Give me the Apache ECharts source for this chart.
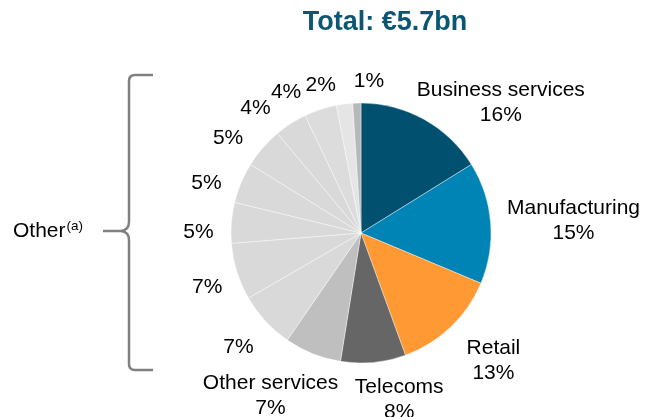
<!DOCTYPE html>
<html>
<head>
<meta charset="utf-8">
<script src="https://cdn.jsdelivr.net/npm/echarts@6/dist/echarts.min.js"></script>
<style>
  html, body { margin: 0; padding: 0; background: #fff; }
  #chart { width: 646px; height: 417px; }
</style>
</head>
<body>
<div id="chart"></div>
<script>
// Sector split of the total, clockwise from 12 o'clock
const sectors = ['Business services', 'Manufacturing', 'Retail', 'Telecoms', 'Other services',
  'Other 1', 'Other 2', 'Other 3', 'Other 4', 'Other 5', 'Other 6', 'Other 7', 'Other 8', 'Other 9'];
const shares = [16, 15, 13, 8, 7, 7, 7, 5, 5, 5, 4, 4, 2, 1];
const namedSectors = ['Business services', 'Manufacturing', 'Retail', 'Telecoms', 'Other services'];
const titleText = 'Total: \u20ac5.7bn';

// Slice colours
const sliceColors = ['#02506F', '#0083B5', '#FF9933', '#666666', '#BFBFBF',
  '#D9D9D9', '#D9D9D9', '#D9D9D9', '#D9D9D9', '#D9D9D9', '#D9D9D9', '#DCDCDC', '#E5E5E5', '#B8B8B8'];

// Label placement: a radial anchor beyond the rim, then a small shift per label
const labelGap = 30;
const labelShift = [[62, 10], [53, 0], [22, 12], [23, 7], [-31, 14], [-5, 6], [-1, 7],
  [-3, 12], [-7, 12], [-12, 10], [-19, 10], [-25, 11], [-20, 11], [13, 8]];

const pieCenter = [361, 233];
const pieRadius = 130;

const chart = echarts.init(document.getElementById('chart'), null, { renderer: 'canvas' });

const seriesData = sectors.map((name, i) => ({
  name: name,
  value: shares[i],
  itemStyle: { color: sliceColors[i] }
}));

// Curly bracket grouping the unnamed slices
const bracketStyle = { fill: 'none', stroke: '#808080', lineWidth: 2.5 };
const seg = (pts) => ({ type: 'polyline', shape: { points: pts }, style: bracketStyle, silent: true });
const curve = (x1, y1, cx, cy, x2, y2) => ({
  type: 'bezierCurve',
  shape: { x1: x1, y1: y1, cpx1: cx, cpy1: cy, x2: x2, y2: y2 },
  style: bracketStyle,
  silent: true
});
const bracket = [
  seg([[153, 75], [135, 75]]),
  curve(135, 75, 129, 75, 129, 81),
  seg([[129, 81], [129, 222]]),
  curve(129, 222, 129, 230, 121, 231),
  seg([[121, 231], [103, 231]]),
  curve(121, 231, 129, 232, 129, 240),
  seg([[129, 240], [129, 364]]),
  curve(129, 364, 129, 370, 135, 370),
  seg([[135, 370], [153, 370]])
];

chart.setOption({
  animation: false,
  backgroundColor: '#ffffff',
  title: {
    text: titleText,
    left: 385,
    top: 9,
    padding: 0,
    textAlign: 'center',
    textStyle: {
      fontFamily: 'Liberation Sans, Arial, sans-serif',
      fontSize: 27,
      fontWeight: 'bold',
      color: '#0B5675'
    }
  },
  series: [{
    type: 'pie',
    center: pieCenter,
    radius: pieRadius,
    startAngle: 90,
    clockwise: true,
    avoidLabelOverlap: false,
    itemStyle: { borderColor: '#ffffff', borderWidth: 0.4 },
    emphasis: { disabled: true },
    label: {
      show: true,
      position: 'outside',
      fontFamily: 'Liberation Sans, Arial, sans-serif',
      fontSize: 21,
      lineHeight: 25,
      color: '#000000',
      formatter: p => namedSectors.includes(p.name) ? p.name + '\n' + p.value + '%' : p.value + '%'
    },
    labelLine: {
      show: true,
      length: labelGap,
      length2: 0,
      lineStyle: { opacity: 0 }
    },
    labelLayout: function (params) {
      const pts = params.labelLinePoints;
      const i = params.dataIndex;
      let ax, ay;
      if (pts && pts.length >= 2) {
        const dx = pts[1][0] - pts[0][0];
        const dy = pts[1][1] - pts[0][1];
        const len = Math.sqrt(dx * dx + dy * dy) || 1;
        ax = pts[0][0] + dx / len * labelGap;
        ay = pts[0][1] + dy / len * labelGap;
      } else {
        const total = shares.reduce((a, b) => a + b, 0);
        let before = 0;
        for (let k = 0; k < i; k++) before += shares[k];
        const ang = (before + shares[i] / 2) / total * Math.PI * 2;
        ax = pieCenter[0] + (pieRadius + labelGap) * Math.sin(ang);
        ay = pieCenter[1] - (pieRadius + labelGap) * Math.cos(ang);
      }
      return {
        x: ax + labelShift[i][0],
        y: ay + labelShift[i][1],
        align: 'center',
        verticalAlign: 'middle'
      };
    },
    data: seriesData
  }],
  graphic: bracket.concat([
    {
      type: 'text',
      x: 13,
      y: 231,
      silent: true,
      style: {
        text: '{m|Other}{s|(a)}',
        verticalAlign: 'middle',
        rich: {
          m: { fontFamily: 'Liberation Sans, Arial, sans-serif', fontSize: 21, color: '#000', lineHeight: 24, verticalAlign: 'middle' },
          s: { fontFamily: 'Liberation Sans, Arial, sans-serif', fontSize: 13.5, color: '#000', lineHeight: 13, verticalAlign: 'top', padding: [0, 0, 0, 1] }
        }
      }
    }
  ])
});
</script>
</body>
</html>
